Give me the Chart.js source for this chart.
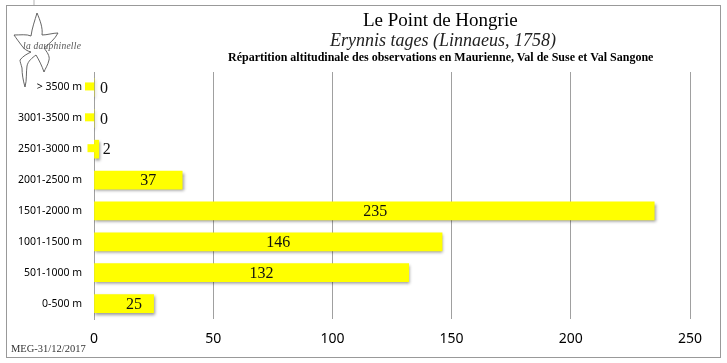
<!DOCTYPE html>
<html>
<head>
<meta charset="utf-8">
<script src="https://cdn.jsdelivr.net/npm/chart.js@4"></script>
<style>
    html, body { margin: 0; padding: 0; background: #fff; }
    #wrap { position: relative; width: 727px; height: 363px; overflow: hidden; }
    #frame { position: absolute; left: 6px; top: 5px; width: 713px; height: 351px; border: 1px solid #999; }
    canvas { position: absolute; left: 0; top: 0; }
    .t { position: absolute; white-space: nowrap; font-family: "Liberation Serif", serif; color: #000; }
    #logo { position: absolute; left: 0; top: 0; }
</style>
</head>
<body>
<div id="wrap">
    <div id="frame"></div>
    <canvas id="altChart" width="727" height="363"></canvas>
    <svg id="logo" width="90" height="95" viewBox="0 0 90 95">
        <path d="M14 35 C20 35 27 34 31 36 C32 28 35 20 37 13 C40 20 43 28 42 35 C47 35 53 33 58 33 C55 39 49 44 44 48 C47 52 50 56 49 60 C48 65 45 69 44 72 C42 66 39 60 36 55 C32 58 28 61 27 66 C26 72 27 80 25 87 C23 80 22 74 22 68 C21 64 20 62 20 60 C23 56 27 54 31 52 C27 51 24 49 22 46 C19 42 16 38 14 35 Z"
              fill="none" stroke="#555" stroke-width="0.9"/>
        <path d="M34 0 L34 5" stroke="#ccc" stroke-width="1.5"/>
    </svg>
    <div class="t" style="left:23px;top:41px;font-size:9.5px;font-style:italic;letter-spacing:0.25px;color:#555">la dauphinelle</div>
    <div class="t" style="left:363px;top:9px;font-size:19px">Le Point de Hongrie</div>
    <div class="t" style="left:330px;top:30px;font-size:18px;font-style:italic;color:#222">Erynnis tages (Linnaeus, 1758)</div>
    <div class="t" style="left:228px;top:50px;font-size:12px;font-weight:bold">Répartition altitudinale des observations en Maurienne, Val de Suse et Val Sangone</div>
    <div class="t" style="left:11px;top:343px;font-size:10.5px;color:#333">MEG-31/12/2017</div>
</div>
<script>
const categories = ['> 3500 m', '3001-3500 m', '2501-3000 m', '2001-2500 m', '1501-2000 m', '1001-1500 m', '501-1000 m', '0-500 m'];
const observations = [0, 0, 2, 37, 235, 146, 132, 25];
const xTicks = [0, 50, 100, 150, 200, 250];

const sansFont = '"Noto Sans", sans-serif';

// soft shadow under the bars, as in the original spreadsheet chart
const barShadow = {
    id: 'barShadow',
    beforeDatasetsDraw(chart) {
        const ctx = chart.ctx;
        ctx.save();
        ctx.shadowColor = 'rgba(0,0,0,0.4)';
        ctx.shadowBlur = 3;
        ctx.shadowOffsetX = 1;
        ctx.shadowOffsetY = 2;
    },
    afterDatasetsDraw(chart) {
        chart.ctx.restore();
    }
};

// little yellow keys next to the near-zero rows + the value labels
const barLabels = {
    id: 'barLabels',
    afterDatasetsDraw(chart) {
        const ctx = chart.ctx;
        const bars = chart.getDatasetMeta(0).data;
        ctx.save();
        ctx.font = '16px "Liberation Serif", serif';
        ctx.textBaseline = 'middle';
        bars.forEach((bar, i) => {
            const value = observations[i];
            if (value <= 2) {
                ctx.fillStyle = '#ffff00';
                ctx.fillRect(bar.base - 9 + value, bar.y - 5, 9, 8);
                ctx.fillStyle = '#111';
                ctx.textAlign = 'left';
                ctx.fillText(value, bar.x + (value ? 4 : 6), bar.y + 1);
            } else {
                ctx.fillStyle = '#111';
                ctx.textAlign = 'center';
                const shift = value > 200 ? 1 : 10;
                ctx.fillText(value, (bar.base + bar.x) / 2 + shift, bar.y + 1);
            }
        });
        ctx.restore();
    }
};

new Chart(document.getElementById('altChart').getContext('2d'), {
    type: 'bar',
    data: {
        labels: categories,
        datasets: [{
            data: observations,
            backgroundColor: '#ffff00',
            barThickness: 18
        }]
    },
    options: {
        indexAxis: 'y',
        responsive: false,
        animation: false,
        layout: { padding: { top: 72, right: 37, left: 0, bottom: 0 } },
        plugins: {
            legend: { display: false },
            tooltip: { enabled: false }
        },
        scales: {
            x: {
                min: 0,
                max: 250,
                afterFit: (scale) => { scale.height = 44; },
                afterBuildTicks: (scale) => { scale.ticks = xTicks.map(v => ({ value: v })); },
                grid: { color: '#a0a0a0', drawTicks: false, lineWidth: 1 },
                border: { display: false },
                ticks: { color: '#000', padding: 12, maxRotation: 0, font: { family: sansFont, size: 14 } }
            },
            y: {
                afterFit: (scale) => { scale.width = 94; },
                grid: { display: false, drawTicks: false },
                border: { color: '#a0a0a0', width: 1 },
                ticks: { color: '#000', padding: 12, font: { family: sansFont, size: 10.5 } }
            }
        }
    },
    plugins: [barShadow, barLabels]
});
</script>
</body>
</html>
